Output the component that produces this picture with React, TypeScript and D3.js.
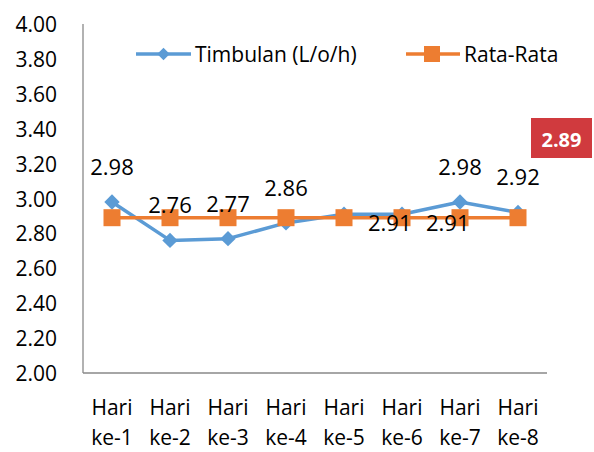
import React, { useEffect, useRef } from 'react';
import * as d3 from 'd3';

const categories = ['Hari ke-1', 'Hari ke-2', 'Hari ke-3', 'Hari ke-4', 'Hari ke-5', 'Hari ke-6', 'Hari ke-7', 'Hari ke-8'];
const timbulan = [2.98, 2.76, 2.77, 2.86, 2.91, 2.91, 2.98, 2.92];
const rataRata = [2.89, 2.89, 2.89, 2.89, 2.89, 2.89, 2.89, 2.89];
const yTicks = [2.0, 2.2, 2.4, 2.6, 2.8, 3.0, 3.2, 3.4, 3.6, 3.8, 4.0];
const legendNames = ['Timbulan (L/o/h)', 'Rata-Rata'];
const averageLabel = '2.89';

const BLUE = '#5b9bd5';
const ORANGE = '#ed7d31';
const FONT = '"Open Sans", Lato, sans-serif';

// label placement of the Timbulan data labels, as in the original
const labelPos = ['top', 'top', 'top', 'top', 'right', 'right', 'top', 'top'];

export default function App() {
  const ref = useRef<SVGSVGElement>(null);

  useEffect(() => {
    const svg = d3.select(ref.current);
    svg.selectAll('*').remove();

    const margin = { top: 24, right: 47, bottom: 79, left: 83 };
    const width = 594;
    const height = 452;

    const x = d3.scaleBand().domain(categories).range([margin.left, width - margin.right]);
    const y = d3.scaleLinear().domain([2, 4]).range([height - margin.bottom, margin.top]);
    const cx = (i: number) => (x(categories[i]) as number) + x.bandwidth() / 2;

    // axes
    svg.append('line')
      .attr('x1', margin.left).attr('x2', margin.left)
      .attr('y1', y(4)).attr('y2', y(2))
      .attr('stroke', '#898989').attr('stroke-width', 1.3);
    svg.append('line')
      .attr('x1', margin.left).attr('x2', width - margin.right)
      .attr('y1', y(2)).attr('y2', y(2))
      .attr('stroke', '#898989').attr('stroke-width', 1.3);

    svg.append('g')
      .selectAll('text')
      .data(yTicks)
      .join('text')
      .attr('x', 57)
      .attr('y', d => y(d) + 8)
      .attr('text-anchor', 'end')
      .style('font-family', FONT)
      .style('font-size', '21px')
      .attr('fill', '#000')
      .text(d => d.toFixed(2));

    const xl = svg.append('g')
      .selectAll('text')
      .data(categories)
      .join('text')
      .attr('text-anchor', 'middle')
      .style('font-family', FONT)
      .style('font-size', '21px')
      .attr('fill', '#000');
    xl.append('tspan').attr('x', d => (x(d) as number) + x.bandwidth() / 2).attr('y', 415).text(d => d.split(' ')[0]);
    xl.append('tspan').attr('x', d => (x(d) as number) + x.bandwidth() / 2).attr('y', 445).text(d => d.split(' ')[1]);

    // lines
    const line = d3.line<number>().x((_, i) => cx(i)).y(d => y(d));
    svg.append('path').datum(timbulan)
      .attr('d', line).attr('fill', 'none')
      .attr('stroke', BLUE).attr('stroke-width', 3.5).attr('stroke-linejoin', 'round');
    svg.append('g').selectAll('path').data(timbulan).join('path')
      .attr('d', d3.symbol(d3.symbolDiamond2, 150) as any)
      .attr('transform', (d, i) => `translate(${cx(i)},${y(d)})`)
      .attr('fill', BLUE);

    svg.append('path').datum(rataRata)
      .attr('d', line).attr('fill', 'none')
      .attr('stroke', ORANGE).attr('stroke-width', 3.5);
    svg.append('g').selectAll('rect').data(rataRata).join('rect')
      .attr('x', (d, i) => cx(i) - 8.5).attr('y', d => y(d) - 8.5)
      .attr('width', 17).attr('height', 17)
      .attr('fill', ORANGE);

    // data labels
    svg.append('g').selectAll('text').data(timbulan).join('text')
      .attr('x', (d, i) => labelPos[i] === 'right' ? cx(i) + 24 : cx(i))
      .attr('y', (d, i) => labelPos[i] === 'right' ? y(d) + 17 : y(d) - 27)
      .attr('text-anchor', (d, i) => labelPos[i] === 'right' ? 'start' : 'middle')
      .style('font-family', FONT)
      .style('font-size', '22px')
      .attr('fill', '#000')
      .text(d => d.toFixed(2));

    // legend
    const lg = svg.append('g');
    lg.append('line').attr('x1', 136).attr('x2', 191).attr('y1', 54).attr('y2', 54)
      .attr('stroke', BLUE).attr('stroke-width', 3.5);
    lg.append('path').attr('d', d3.symbol(d3.symbolDiamond2, 100)() as string)
      .attr('transform', 'translate(163.5,54)').attr('fill', BLUE);
    lg.append('text').attr('x', 195).attr('y', 62)
      .style('font-family', FONT).style('font-size', '21px').text(legendNames[0]);
    lg.append('line').attr('x1', 406).attr('x2', 460).attr('y1', 54).attr('y2', 54)
      .attr('stroke', ORANGE).attr('stroke-width', 3.5);
    lg.append('rect').attr('x', 424).attr('y', 46).attr('width', 16).attr('height', 16)
      .attr('fill', ORANGE);
    lg.append('text').attr('x', 464).attr('y', 62)
      .style('font-family', FONT).style('font-size', '21px').text(legendNames[1]);

    // average callout
    svg.append('rect').attr('x', 531).attr('y', 118).attr('width', 61).attr('height', 40)
      .attr('fill', '#d03a3e');
    svg.append('text').attr('x', 561.5).attr('y', 147)
      .attr('text-anchor', 'middle')
      .style('font-family', FONT).style('font-size', '20px').style('font-weight', 'bold')
      .attr('fill', '#fff').text(averageLabel);
  }, []);

  return (
    <svg ref={ref} width={594} height={452}
      style={{ position: 'absolute', left: 0, top: 0, background: '#fff' }} />
  );
}
